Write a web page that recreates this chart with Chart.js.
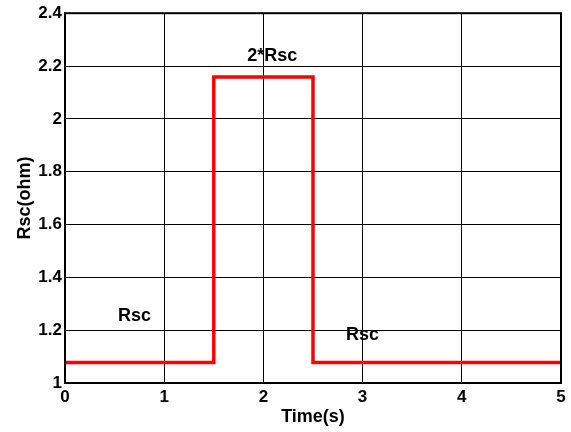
<!DOCTYPE html>
<html>
<head>
<meta charset="utf-8">
<script src="https://cdn.jsdelivr.net/npm/chart.js@4/dist/chart.umd.min.js"></script>
<style>
  html, body { margin: 0; padding: 0; background: #fff; }
  #wrap { width: 571px; height: 432px; }
</style>
</head>
<body>
<div id="wrap"><canvas id="c" width="571" height="432"></canvas></div>
<script>
// Data
const timeS = [0, 1.5, 1.5, 2.5, 2.5, 5];
const rscOhm = [1.078, 1.078, 2.158, 2.158, 1.078, 1.078];

const xTicks = [0, 1, 2, 3, 4, 5];
const xTickLabels = ['0', '1', '2', '3', '4', '5'];
const yTicks = [1, 1.2, 1.4, 1.6, 1.8, 2, 2.2, 2.4];
const yTickLabels = ['1', '1.2', '1.4', '1.6', '1.8', '2', '2.2', '2.4'];

const noteTexts = ['Rsc', '2*Rsc', 'Rsc'];
const noteX = [0.70, 2.09, 3.0];
const noteY = [1.253, 2.238, 1.181];

const FONT = '"Liberation Sans", Arial, sans-serif';

const points = timeS.map((t, i) => ({ x: t, y: rscOhm[i] }));

const boxPlugin = {
  id: 'boxAndNotes',
  afterDraw(chart) {
    const { ctx, chartArea: a, scales } = chart;
    ctx.save();
    ctx.strokeStyle = '#000';
    ctx.lineWidth = 2;
    ctx.strokeRect(a.left, a.top, a.right - a.left, a.bottom - a.top);
    ctx.fillStyle = '#000';
    ctx.font = 'bold 18px ' + FONT;
    ctx.textAlign = 'center';
    ctx.textBaseline = 'middle';
    noteTexts.forEach((t, i) => {
      ctx.fillText(t, scales.x.getPixelForValue(noteX[i]), scales.y.getPixelForValue(noteY[i]));
    });
    ctx.restore();
  }
};

new Chart(document.getElementById('c'), {
  type: 'scatter',
  data: {
    datasets: [{
      data: points,
      showLine: true,
      borderColor: '#ff0000',
      borderWidth: 3.5,
      pointRadius: 0,
      fill: false,
      tension: 0
    }]
  },
  options: {
    responsive: false,
    animation: false,
    devicePixelRatio: 1,
    layout: { padding: { top: 12, right: 10, left: 0, bottom: 0 } },
    plugins: { legend: { display: false }, tooltip: { enabled: false } },
    scales: {
      x: {
        type: 'linear',
        min: 0, max: 5,
        afterBuildTicks: s => { s.ticks = xTicks.map(v => ({ value: v })); },
        afterFit: s => { s.height = 49; },
        ticks: {
          color: '#000',
          font: { family: FONT, size: 17, weight: 'bold' },
          padding: 4,
          maxRotation: 0,
          callback: (v, i) => xTickLabels[i]
        },
        grid: { color: '#000', lineWidth: 1, drawTicks: false },
        border: { display: true, color: '#000', width: 2 },
        title: {
          display: true,
          text: 'Time(s)',
          color: '#000',
          font: { family: FONT, size: 18, weight: 'bold' },
          padding: { top: 0, bottom: 4 }
        }
      },
      y: {
        type: 'linear',
        min: 1, max: 2.4,
        afterBuildTicks: s => { s.ticks = yTicks.map(v => ({ value: v })); },
        afterFit: s => { s.width = 65; },
        ticks: {
          color: '#000',
          font: { family: FONT, size: 17, weight: 'bold' },
          padding: 3,
          callback: (v, i) => yTickLabels[i]
        },
        grid: { color: '#000', lineWidth: 1, drawTicks: false },
        border: { display: true, color: '#000', width: 2 },
        title: {
          display: true,
          text: 'Rsc(ohm)',
          color: '#000',
          font: { family: FONT, size: 18, weight: 'bold' },
          padding: { top: 14, bottom: 0 }
        }
      }
    }
  },
  plugins: [boxPlugin]
});
</script>
</body>
</html>
